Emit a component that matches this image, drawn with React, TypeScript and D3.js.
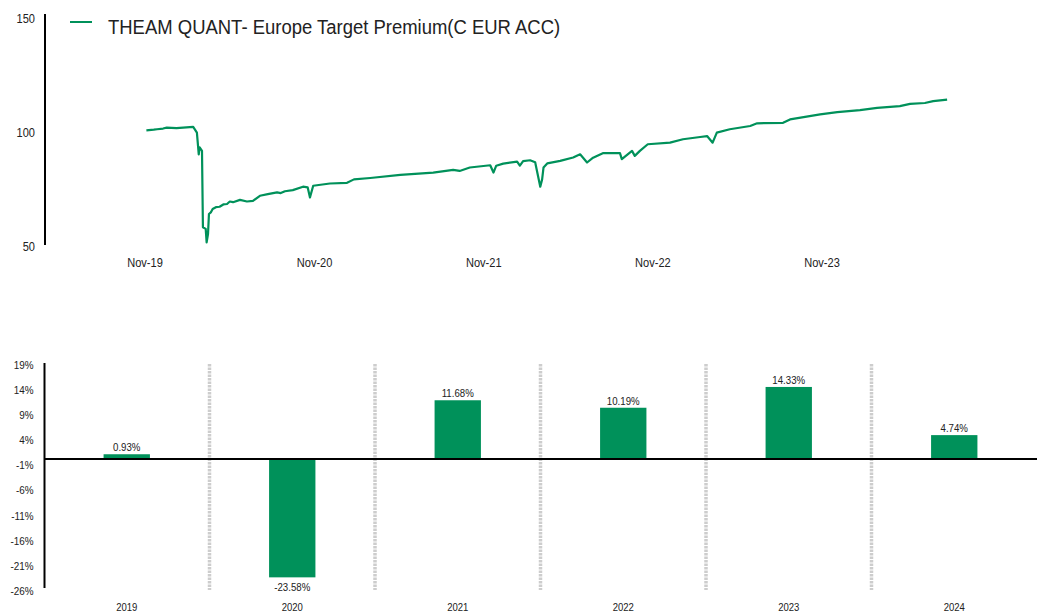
import React from "react";
import * as d3 from "d3";

const seriesName = "THEAM QUANT- Europe Target Premium(C EUR ACC)";

// NAV
const navDates = [
  "2019-11-04", "2019-11-20", "2019-11-27", "2019-12-10", "2019-12-18", "2020-01-08",
  "2020-01-15", "2020-02-13", "2020-02-21", "2020-02-25", "2020-02-27", "2020-03-03",
  "2020-03-05", "2020-03-11", "2020-03-13", "2020-03-16", "2020-03-18", "2020-03-22",
  "2020-03-26", "2020-04-02", "2020-04-10", "2020-04-18", "2020-04-26", "2020-05-02",
  "2020-05-09", "2020-05-24", "2020-06-08", "2020-06-21", "2020-07-06", "2020-07-23",
  "2020-08-12", "2020-08-20", "2020-08-29", "2020-09-15", "2020-10-07", "2020-10-17",
  "2020-10-22", "2020-10-29", "2020-12-04", "2021-01-10", "2021-01-25", "2021-03-01",
  "2021-05-05", "2021-07-15", "2021-08-27", "2021-09-10", "2021-10-02", "2021-11-15",
  "2021-11-22", "2021-11-28", "2021-12-13", "2022-01-12", "2022-01-18", "2022-01-25",
  "2022-02-09", "2022-02-20", "2022-03-03", "2022-03-07", "2022-03-10", "2022-03-18",
  "2022-04-15", "2022-05-13", "2022-05-28", "2022-06-12", "2022-06-25", "2022-07-16",
  "2022-08-22", "2022-08-26", "2022-09-17", "2022-09-23", "2022-10-04", "2022-10-21",
  "2022-12-08", "2023-01-05", "2023-02-11", "2023-02-26", "2023-03-10", "2023-03-19",
  "2023-04-16", "2023-05-30", "2023-06-14", "2023-08-09", "2023-08-24", "2023-10-28",
  "2023-12-04", "2024-01-22", "2024-02-28", "2024-04-17", "2024-05-09", "2024-06-10",
  "2024-06-28", "2024-07-28",
];
const navValues = [
  100.5, 100.8, 101.0, 101.3, 101.7, 101.5,
  101.6, 102.0, 99.5, 90.0, 93.0, 91.5,
  58.0, 57.3, 51.4, 55.0, 63.8, 64.5,
  66.0, 66.8, 67.0, 68.0, 68.2, 69.3,
  69.0, 70.0, 69.3, 69.6, 71.8, 72.5,
  73.3, 73.0, 73.8, 74.3, 75.8, 75.5,
  71.1, 76.2, 77.2, 77.5, 79.0, 79.6,
  81.0, 82.0, 83.2, 82.7, 84.2, 85.2,
  82.0, 85.0, 85.9, 86.8, 85.0, 87.0,
  87.4, 86.5, 75.8, 79.0, 84.2, 86.0,
  87.1, 88.6, 90.0, 86.4, 88.5, 90.5,
  90.5, 87.9, 91.5, 89.3, 91.5, 94.4,
  95.1, 96.6, 97.6, 98.0, 95.1, 99.5,
  101.0, 102.4, 103.6, 103.8, 105.3, 107.5,
  108.5, 109.4, 110.4, 111.1, 112.1, 112.5,
  113.3, 114.0,
];
const navTicks = [50, 100, 150];
const dateTicks = ["2019-11-01", "2020-11-01", "2021-11-01", "2022-11-01", "2023-11-01"];

// calendar year performance
const years = ["2019", "2020", "2021", "2022", "2023", "2024"];
const yearReturns = [0.93, -23.58, 11.68, 10.19, 14.33, 4.74];
const returnTicks = [19, 14, 9, 4, -1, -6, -11, -16, -21, -26];

const GREEN = "#00915a";
const TEXT = "#222";
const FONT = "'Liberation Sans', Arial, sans-serif";

// text squeezed horizontally like the original export
const T = ({ x, y, size, sx = 0.85, anchor = "start", dy, children }: any) => (
  <text
    transform={`translate(${x},${y}) scale(${sx},1)`}
    textAnchor={anchor}
    fontSize={size}
    dy={dy}
    fill={TEXT}
  >
    {children}
  </text>
);

export default function App() {
  const parse = d3.timeParse("%Y-%m-%d");
  const fmt = d3.timeFormat("%b-%y");
  const nav = navDates.map((d, i) => ({ date: parse(d) as Date, value: navValues[i] }));

  // top chart
  const x = d3
    .scaleTime()
    .domain([parse(dateTicks[0]) as Date, parse(dateTicks[dateTicks.length - 1]) as Date])
    .range([145, 822]);
  const y = d3.scaleLinear().domain([50, 150]).range([245.5, 17.5]);
  const line = d3
    .line<{ date: Date; value: number }>()
    .x((d) => x(d.date))
    .y((d) => y(d.value));

  // bottom chart
  const xb = d3
    .scaleBand()
    .domain(years)
    .range([44, 1037])
    .paddingInner(0.72)
    .paddingOuter(0.36);
  const yb = d3.scaleLinear().domain([-26, 19]).range([589.5, 363.5]);
  const step = xb.step();

  return (
    <svg
      width={1044}
      height={616}
      style={{ position: "absolute", left: 0, top: 0, background: "#fff" }}
      fontFamily={FONT}
    >
      {/* legend */}
      <line x1={70} x2={92} y1={22} y2={22} stroke={GREEN} strokeWidth={2} />
      <T x={108} y={34} size={21} sx={0.88}>
        {seriesName}
      </T>

      {/* top y axis */}
      <line x1={45} x2={45} y1={14} y2={245} stroke="#000" strokeWidth={2} />
      {navTicks.map((t) => (
        <T key={t} x={35} y={y(t) + 1} dy="0.35em" anchor="end" size={13}>
          {t}
        </T>
      ))}
      {dateTicks.map((d) => {
        const dt = parse(d) as Date;
        return (
          <T key={d} x={x(dt)} y={267} anchor="middle" size={13.5} sx={0.82}>
            {fmt(dt)}
          </T>
        );
      })}
      <path
        d={line(nav) || ""}
        fill="none"
        stroke={GREEN}
        strokeWidth={2.2}
        strokeLinejoin="round"
      />

      {/* bottom chart */}
      {years.slice(1).map((yr) => (
        <line
          key={`sep-${yr}`}
          x1={(xb(yr) as number) - (step - xb.bandwidth()) / 2}
          x2={(xb(yr) as number) - (step - xb.bandwidth()) / 2}
          y1={364}
          y2={590}
          stroke="#cdcdcd"
          strokeWidth={3.5}
          strokeDasharray="2.5 1"
        />
      ))}
      {years.map((yr, i) => {
        const v = yearReturns[i];
        const bx = xb(yr) as number;
        const cx = bx + xb.bandwidth() / 2;
        const top = yb(Math.max(0, v));
        const h = Math.abs(yb(v) - yb(0));
        return (
          <g key={yr}>
            <rect x={bx} y={top} width={xb.bandwidth()} height={h} fill={GREEN} />
            <T x={cx} y={v >= 0 ? yb(v) - 3 : yb(v) + 14} anchor="middle" size={11} sx={0.88}>
              {v.toFixed(2)}%
            </T>
            <T x={cx} y={611} anchor="middle" size={11.5} sx={0.83}>
              {yr}
            </T>
          </g>
        );
      })}
      <line x1={44} x2={1037} y1={yb(0)} y2={yb(0)} stroke="#000" strokeWidth={2} />
      <line x1={44.5} x2={44.5} y1={363} y2={588} stroke="#000" strokeWidth={2} />
      {returnTicks.map((t) => (
        <T key={t} x={33.5} y={yb(t) + 1.5} dy="0.35em" anchor="end" size={11} sx={0.9}>
          {t}%
        </T>
      ))}
    </svg>
  );
}
